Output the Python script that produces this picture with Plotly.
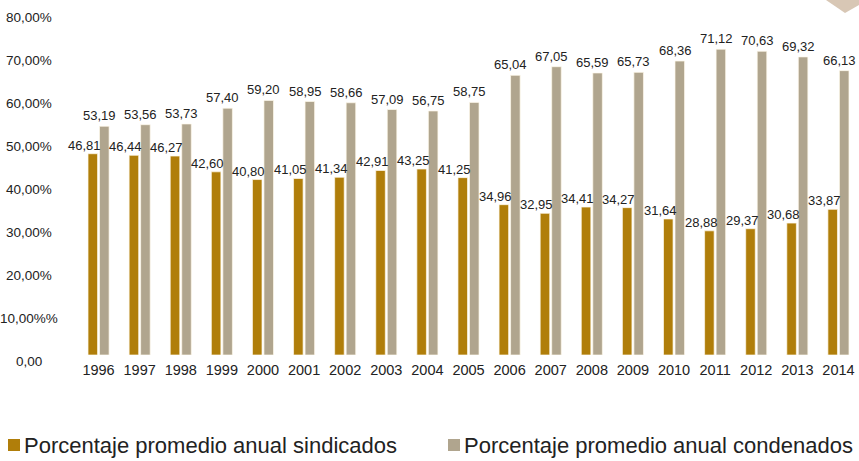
import plotly.graph_objects as go

# Data
years = ["1996", "1997", "1998", "1999", "2000", "2001", "2002", "2003", "2004", "2005",
         "2006", "2007", "2008", "2009", "2010", "2011", "2012", "2013", "2014"]
sindicados = [46.81, 46.44, 46.27, 42.60, 40.80, 41.05, 41.34, 42.91, 43.25, 41.25,
              34.96, 32.95, 34.41, 34.27, 31.64, 28.88, 29.37, 30.68, 33.87]
condenados = [53.19, 53.56, 53.73, 57.40, 59.20, 58.95, 58.66, 57.09, 56.75, 58.75,
              65.04, 67.05, 65.59, 65.73, 68.36, 71.12, 70.63, 69.32, 66.13]
series_names = ["Porcentaje promedio anual sindicados", "Porcentaje promedio anual condenados"]
y_tickvals = [0, 10, 20, 30, 40, 50, 60, 70, 80]
y_ticktext = ["0,00", "10,00%%", "20,00%", "30,00%", "40,00%", "50,00%", "60,00%", "70,00%", "80,00%"]

COL_DARK = "#B07E0A"
COL_LIGHT = "#B0A58E"
TEXT = "#222222"
FONT = "Liberation Sans, Arial, sans-serif"

W, H = 859, 461
ML, MR, MT, MB = 78, 0, 11, 106
PW, PH = W - ML - MR, H - MT - MB


def px_x(p):
    return (p - ML) / PW


def px_y(p):
    return (H - MB - p) / PH


def fmt(v):
    return f"{v:.2f}".replace(".", ",")


idx = list(range(len(years)))

fig = go.Figure()
for name, vals, col in [(series_names[0], sindicados, COL_DARK), (series_names[1], condenados, COL_LIGHT)]:
    fig.add_trace(go.Bar(
        x=idx, y=vals, name=name,
        marker=dict(color=col, line=dict(color="rgba(255,250,235,0.7)", width=1)),
        showlegend=False,
    ))

annotations = []
# value labels above bars
for i, v in zip(idx, sindicados):
    annotations.append(dict(x=i, y=v, text=fmt(v), showarrow=False, xref="x", yref="y",
                            xanchor="center", yanchor="bottom", xshift=-14, yshift=-1,
                            font=dict(family=FONT, size=13, color=TEXT)))
for i, v in zip(idx, condenados):
    annotations.append(dict(x=i, y=v, text=fmt(v), showarrow=False, xref="x", yref="y",
                            xanchor="center", yanchor="bottom", xshift=1, yshift=1,
                            font=dict(family=FONT, size=13, color=TEXT)))
# y-axis labels, centred in the left margin
for tv, tt in zip(y_tickvals, y_ticktext):
    annotations.append(dict(x=px_x(29), y=tv, text=tt, showarrow=False, xref="paper", yref="y",
                            xanchor="center", yanchor="middle", yshift=-6,
                            font=dict(family=FONT, size=13.5, color=TEXT)))

# legend
shapes = []
legend_items = [(series_names[0], COL_DARK, 8), (series_names[1], COL_LIGHT, 448)]
for name, col, x0 in legend_items:
    shapes.append(dict(type="rect", xref="paper", yref="paper",
                       x0=px_x(x0), x1=px_x(x0 + 12), y0=px_y(451), y1=px_y(439),
                       fillcolor=col, line=dict(width=0)))
    annotations.append(dict(x=px_x(x0 + 14), y=px_y(445), text=name, showarrow=False,
                            xref="paper", yref="paper", xanchor="left", yanchor="middle",
                            font=dict(family=FONT, size=22, color=TEXT)))

# corner chevron ornament
pts = [(826, 0), (859, 0), (859, 5), (845, 13)]
path = "M " + " L ".join(f"{px_x(a):.4f},{px_y(b):.4f}" for a, b in pts) + " Z"
shapes.append(dict(type="path", xref="paper", yref="paper", path=path,
                   fillcolor="#D8C7B5", line=dict(width=0)))

fig.update_layout(
    width=W, height=H,
    margin=dict(l=ML, r=MR, t=MT, b=MB),
    paper_bgcolor="white", plot_bgcolor="white",
    barmode="group", bargap=0.44, bargroupgap=0.17,
    xaxis=dict(range=[-0.5, len(years) - 0.5], tickmode="array", tickvals=idx, ticktext=years,
               showgrid=False, showline=False, zeroline=False, ticklabelstandoff=4,
               ticks="", tickfont=dict(family=FONT, size=14.5, color=TEXT)),
    yaxis=dict(range=[0, 80], showgrid=False, showline=False, zeroline=False,
               showticklabels=False, ticks=""),
    annotations=annotations,
    shapes=shapes,
)

fig.write_html("out.html")
